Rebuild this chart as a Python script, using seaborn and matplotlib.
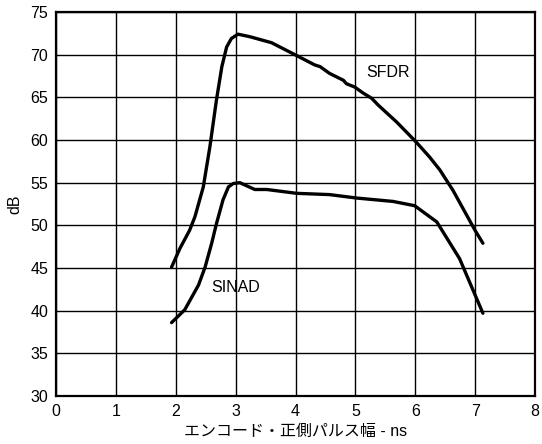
import matplotlib
matplotlib.use("Agg")
import matplotlib.pyplot as plt
import seaborn as sns
import pandas as pd

sfdr_x = [1.93, 2.07, 2.23, 2.32, 2.46, 2.57, 2.68, 2.77, 2.85, 2.93, 3.04, 3.24, 3.60,
          3.99, 4.32, 4.41, 4.57, 4.80, 4.85, 4.99, 5.13, 5.27, 5.38, 5.69, 6.01, 6.24,
          6.41, 6.63, 7.00, 7.13]
sfdr_y = [45.1, 47.3, 49.4, 51.0, 54.5, 59.2, 64.7, 68.6, 70.9, 71.9, 72.4, 72.1, 71.4,
          70.0, 68.8, 68.6, 67.8, 67.0, 66.6, 66.2, 65.5, 64.9, 64.1, 62.1, 59.8, 58.0,
          56.5, 54.1, 49.4, 47.9]

sinad_x = [1.93, 2.15, 2.38, 2.49, 2.60, 2.68, 2.79, 2.88, 2.96, 3.07, 3.32, 3.52, 4.02,
           4.57, 5.02, 5.63, 5.99, 6.36, 6.74, 7.13]
sinad_y = [38.6, 40.1, 43.0, 45.1, 47.9, 50.2, 53.0, 54.5, 54.9, 55.0, 54.2, 54.2, 53.75,
           53.6, 53.2, 52.8, 52.3, 50.4, 46.1, 39.7]

x_ticks = [0, 1, 2, 3, 4, 5, 6, 7, 8]
y_ticks = [30, 35, 40, 45, 50, 55, 60, 65, 70, 75]
x_label = "エンコード・正側パルス幅 - ns"
y_label = "dB"

sns.set_theme(style="white")
plt.rcParams['font.family'] = ['Liberation Sans', 'Noto Sans CJK JP', 'DejaVu Sans']
plt.rcParams['text.color'] = 'black'
plt.rcParams['axes.labelcolor'] = 'black'

df = pd.concat([
    pd.DataFrame({"x": sfdr_x, "y": sfdr_y, "s": "SFDR"}),
    pd.DataFrame({"x": sinad_x, "y": sinad_y, "s": "SINAD"}),
])

fig = plt.figure(figsize=(5.42, 4.44), dpi=100)
ax = fig.add_axes([56/542, 1-396/444, (535-56)/542, (396-12)/444])
sns.lineplot(data=df, x="x", y="y", units="s", estimator=None, sort=False,
             color="black", linewidth=2.4, ax=ax, legend=False)

ax.set_xlim(0, 8)
ax.set_ylim(30, 75)
ax.set_xticks(x_ticks)
ax.set_yticks(y_ticks)
ax.grid(True, color="black", linewidth=1.0)
for sp in ax.spines.values():
    sp.set_color("black")
    sp.set_linewidth(1.6)
ax.tick_params(length=0, labelsize=11.5, colors="black", labelcolor="black")
ax.tick_params(axis="x", pad=6)
ax.tick_params(axis="y", pad=5.5)
ax.set_xlabel(x_label, fontsize=11.5, labelpad=3, color="black")
ax.set_ylabel(y_label, fontsize=11.5, labelpad=6, color="black")

ax.text(5.54, 67.9, "SFDR", fontsize=11.5, ha="center", va="center", color="black")
ax.text(3.0, 42.7, "SINAD", fontsize=11.5, ha="center", va="center", color="black")

fig.savefig("out.png", dpi=100)
